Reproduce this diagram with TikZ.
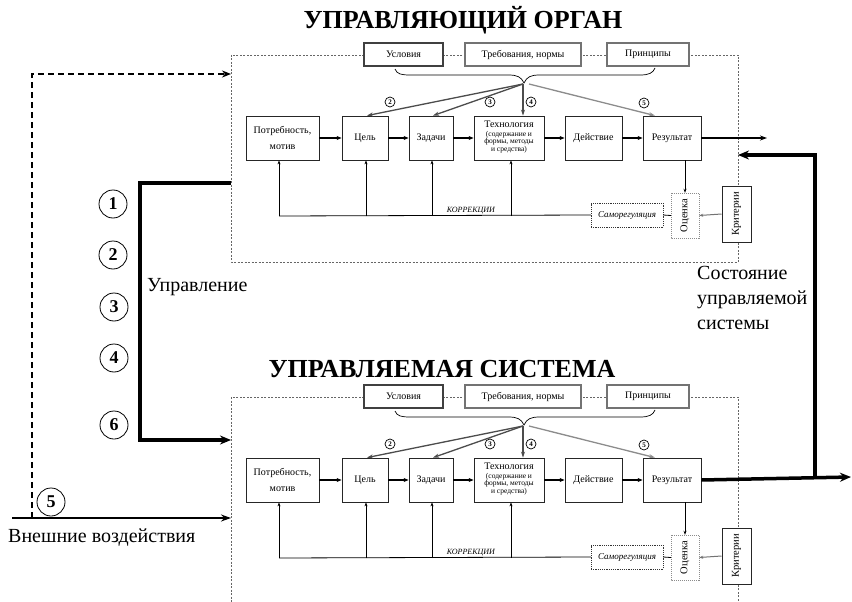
\documentclass[tikz,border=0pt]{standalone}
\usepackage{fontspec}
\setmainfont{Liberation Serif}
\usetikzlibrary{arrows.meta,calc}
\newcommand\fsz[2]{\fontsize{#1}{#2}\selectfont}
\newcommand\drawsystem[1]{%
  \draw[sysframe] (231,55) rectangle (738,262);
  \node[topbox, minimum width=79pt] (#1usl) at (403.5,54.5) {Условия};
  \node[topbox, minimum width=116pt, draw=black!55, line width=1.6pt] (#1treb) at (523,54.5) {Требования, нормы};
  \node[topbox, minimum width=82pt, draw=black!55] (#1prin) at (648,54.5) {Принципы};
  \draw[line width=0.7pt] (395,69) .. controls (397,74) and (401,75) .. (410,75) -- (508,75)
     .. controls (518,75) and (521,77) .. (524,83)
     .. controls (527,77) and (530,75) .. (540,75) -- (640,75)
     .. controls (649,75) and (653,73) .. (655,68);
  \coordinate (#1tip) at (523,84);
  \node[mainbox, minimum width=73pt] (#1pm) at (282.5,138) {Потребность,\\мотив};
  \node[mainbox, minimum width=46pt] (#1cel) at (365,138) {Цель};
  \node[mainbox, minimum width=44pt] (#1zad) at (431,138) {Задачи};
  \node[mainbox, minimum width=70pt] (#1tech) at (509,138) {};
  \node[inner sep=0pt, font=\fsz{10}{11}] (#1techA) at (509,124) {Технология};
  \node[inner sep=0pt, align=center, font=\fsz{7.5}{7.6}] (#1techB) at (509,142) {(содержание и\\формы, методы\\и средства)};
  \node[mainbox, minimum width=57pt] (#1dey) at (593.5,138) {Действие};
  \node[mainbox, minimum width=58pt] (#1res) at (672,138) {Результат};
  \draw[flow] (#1pm) -- (#1cel);
  \draw[flow] (#1cel) -- (#1zad);
  \draw[flow] (#1zad) -- (#1tech);
  \draw[flow] (#1tech) -- (#1dey);
  \draw[flow] (#1dey) -- (#1res);
  \draw[dirarrow] (#1tip) -- ($(#1cel.north)+(2,0)$);
  \draw[dirarrow] (#1tip) -- ($(#1zad.north)+(2,0)$);
  \draw[dirarrow] (#1tip) -- (#1tip |- #1tech.north);
  \draw[dirarrow, draw=black!45] ($(#1tip)+(6,0)$) -- ($(#1res.north)+(-17,0)$);
  \node[num] (#1n2) at (390,102) {2};
  \node[num] (#1n3) at (490,102) {3};
  \node[num] (#1n4) at (531,102) {4};
  \node[num] (#1n5) at (644,103) {5};
  \node[sbox, draw=black!80, dash pattern=on 1.2pt off 1pt, minimum width=72pt, minimum height=24pt, font=\itshape\fsz{9}{10}] (#1samo) at (627,215) {Саморегуляция};
  \node[sbox, rotate=90, draw=black!45, dash pattern=on 1pt off 1pt, minimum width=45pt, minimum height=28pt, font=\fsz{10.5}{12}] (#1oc) at (685,215.5) {Оценка};
  \node[sbox, rotate=90, draw=black!85, line width=1pt, minimum width=56pt, minimum height=29pt, font=\fsz{10.5}{12}] (#1kr) at (736.5,214) {Критерии};
  \coordinate (#1k1) at (279,216);
  \coordinate (#1k2) at (366,216);
  \coordinate (#1k3) at (432,216);
  \coordinate (#1k4) at (511,216);
  \draw[line width=0.8pt] (#1k1) -- (#1samo.west);
  \draw[line width=0.8pt] (#1samo.east) -- (#1oc.north);
  \draw[fb] (#1k1) -- (#1k1 |- #1pm.south);
  \draw[fb] (#1k2) -- (#1k2 |- #1cel.south);
  \draw[fb] (#1k3) -- (#1k3 |- #1zad.south);
  \draw[fb] (#1k4) -- (#1k4 |- #1tech.south);
  \node[font=\itshape\fsz{8}{9}, inner sep=0pt] (#1korr) at (471,211) {КОРРЕКЦИИ};
  \draw[fb] (#1oc.east |- #1res.south) -- (#1oc.east);
  \draw[fb, draw=black!55, line width=1pt] (#1kr.north) -- (#1oc.south);
}
\begin{document}
\begin{tikzpicture}[x=1pt,y=-1pt,
  sysframe/.style={draw=black!60, line width=0.6pt, dash pattern=on 2pt off 1.5pt},
  topbox/.style={draw=black!75, line width=1.1pt, fill=white, minimum height=23pt, inner sep=1pt, font=\fsz{10}{12}},
  mainbox/.style={draw=black!85, line width=0.8pt, fill=white, minimum height=44pt, inner sep=1pt, align=center, font=\fsz{10}{16}},
  sbox/.style={fill=white, inner sep=1pt},
  flow/.style={line width=1.6pt, -{Stealth[length=5pt,width=4pt]}},
  fb/.style={line width=0.7pt, -{Stealth[length=4pt,width=3pt]}},
  dirarrow/.style={line width=1.3pt, draw=black!70, -{Stealth[length=6pt,width=4pt]}},
  num/.style={circle, draw, line width=0.7pt, fill=white, inner sep=0pt, minimum size=10pt, font=\bfseries\fsz{7}{7}},
  bignum/.style={circle, draw, line width=0.8pt, fill=white, inner sep=0pt, minimum size=28pt, font=\bfseries\fsz{18}{18}},
  heavy/.style={line width=3.5pt, -{Stealth[length=11pt,width=9pt]}},
  bigtext/.style={font=\fsz{20}{25}, align=left, inner sep=0pt},
]
\useasboundingbox (0,0) rectangle (852,602);
\fill[white] (0,0) rectangle (852,602);
% titles
\node[font=\bfseries\fsz{26}{28}, inner sep=0pt] (title1) at (463,20) {УПРАВЛЯЮЩИЙ ОРГАН};
\node[font=\bfseries\fsz{26}{28}, inner sep=0pt] (title2) at (442,369) {УПРАВЛЯЕМАЯ СИСТЕМА};
% systems
\drawsystem{u}
\begin{scope}[shift={(0,342)}]
\drawsystem{l}
\end{scope}
% outputs
\coordinate (uout) at (767,138);
\draw[line width=1.3pt, -{Stealth[length=7pt,width=5pt]}] (ures.east) -- (uout);
\coordinate (lout) at (851,477);
\coordinate (stateout) at (815,477);
\coordinate (statein) at (738,155);
\draw[heavy] (lres.east) -- (lout);
\draw[heavy] (stateout) |- (statein);
% control
\coordinate (ctlA) at (231,183);
\coordinate (ctlM) at (140,300);
\coordinate (ctlB) at (231,440);
\draw[heavy] (ctlA) -| (ctlM) |- (ctlB);
% external
\coordinate (extA) at (32,518);
\coordinate (extIn) at (231,74);
\draw[line width=1.8pt, dash pattern=on 6pt off 4pt, -{Stealth[length=9pt,width=7pt]}] (extA) |- (extIn);
\coordinate (extL) at (12,518);
\coordinate (extR) at (231,518);
\draw[line width=2.5pt, -{Stealth[length=10pt,width=7pt]}] (extL) -- (extR);
% numbers
\node[bignum] (c1) at (113,204) {1};
\node[bignum] (c2) at (113,255) {2};
\node[bignum] (c3) at (114,307) {3};
\node[bignum] (c4) at (114,358) {4};
\node[bignum] (c6) at (114,425) {6};
\node[bignum] (c5) at (51,502) {5};
% texts
\node[bigtext, anchor=west] (upr) at (147,287) {Управление};
\node[bigtext, anchor=north west] (state) at (697,266) {Состояние\\управляемой\\системы};
\node[bigtext, anchor=west] (ext) at (8,538) {Внешние воздействия};
\end{tikzpicture}
\end{document}
